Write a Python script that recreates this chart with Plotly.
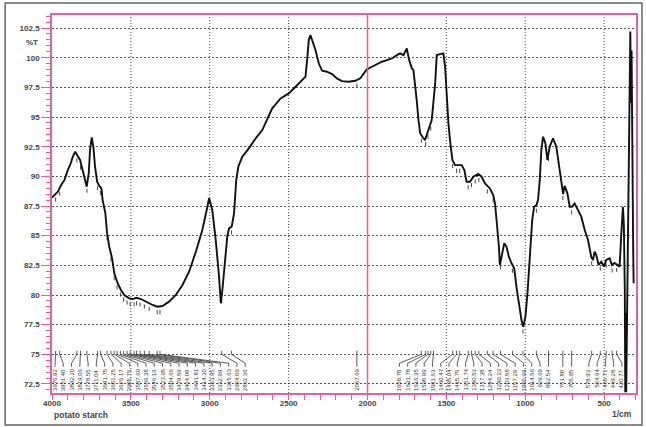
import numpy as np
import plotly.graph_objects as go

# ---------------- data ----------------
wavenumber = [
    4000, 3995, 3963, 3942, 3921, 3900, 3883, 3868, 3853, 3837, 3822, 3809, 3795, 3780,
    3767, 3759, 3748, 3738, 3727, 3714, 3700, 3687, 3679, 3662, 3651, 3637, 3619, 3605,
    3584, 3563, 3542, 3510, 3489, 3464, 3436, 3405, 3363, 3331, 3300, 3258, 3215, 3173,
    3131, 3088, 3047, 3015, 3004, 2984, 2962, 2941, 2930, 2920, 2903, 2889, 2878, 2861,
    2846, 2832, 2819, 2794, 2752, 2709, 2667, 2604, 2551, 2499, 2456, 2425, 2393, 2383,
    2372, 2362, 2351, 2330, 2309, 2288, 2257, 2225, 2194, 2162, 2120, 2077, 2046, 2025,
    2004, 1972, 1941, 1909, 1877, 1846, 1814, 1793, 1772, 1751, 1736, 1719, 1709, 1698,
    1688, 1677, 1666, 1652, 1635, 1618, 1603, 1593, 1571, 1561, 1540, 1519, 1508, 1498,
    1487, 1477, 1462, 1445, 1424, 1403, 1386, 1372, 1350, 1329, 1298, 1277, 1255, 1224,
    1203, 1192, 1182, 1171, 1167, 1161, 1146, 1133, 1119, 1104, 1087, 1070, 1056, 1041,
    1024, 1013, 999, 986, 971, 956, 944, 929, 919, 908, 898, 887, 872, 860, 845, 824,
    803, 788, 771, 760, 750, 733, 718, 704, 687, 666, 645, 623, 602, 582, 571, 560, 550,
    535, 518, 501, 487, 465, 451, 434, 413, 402, 392, 381, 375, 369, 366, 363, 360, 334,
    330, 326, 316, 313,
]
transmittance = [
    88.20, 88.28, 88.71, 89.27, 89.69, 90.53, 91.04, 91.66, 92.08, 91.71, 91.38, 90.68, 89.97, 89.13,
    90.26, 92.22, 93.29, 92.50, 90.81, 89.55, 89.19, 88.99, 88.00, 86.91, 85.23, 84.07, 83.09, 81.83,
    80.99, 80.42, 80.00, 79.72, 79.66, 79.77, 79.66, 79.44, 79.16, 79.01, 79.07, 79.44, 80.00, 80.84,
    81.96, 83.65, 85.48, 87.44, 88.15, 87.16, 84.63, 81.54, 79.30, 80.42, 82.67, 84.91, 85.62, 85.76,
    86.88, 89.69, 90.81, 91.65, 92.36, 93.20, 93.90, 95.73, 96.57, 96.99, 97.55, 97.97, 98.40, 99.80,
    101.49, 101.91, 101.49, 100.65, 99.53, 98.90, 98.82, 98.62, 98.26, 98.03, 97.97, 98.06, 98.26, 98.68,
    99.02, 99.24, 99.47, 99.66, 99.80, 99.94, 100.22, 100.37, 100.22, 100.79, 99.80, 99.10, 98.96, 97.84,
    96.43, 94.75, 93.63, 93.34, 93.06, 93.76, 94.33, 94.75, 97.84, 100.22, 100.30, 100.37, 99.24, 96.43,
    94.47, 93.06, 91.38, 90.95, 90.95, 90.95, 90.53, 89.55, 89.55, 89.97, 90.20, 89.97, 89.40, 88.98,
    88.43, 87.73, 86.32, 84.91, 84.07, 82.53, 83.65, 84.36, 84.07, 83.23, 82.67, 82.25, 80.70, 79.30,
    77.89, 77.33, 78.17, 80.14, 83.51, 86.32, 87.44, 87.58, 88.00, 89.69, 92.22, 93.34, 92.78, 91.38, 92.50, 93.20,
    92.50, 91.10, 89.40, 88.50, 89.20, 88.57, 87.44, 87.44, 87.72, 87.16, 86.60, 85.48, 84.63, 83.23, 82.95, 83.65, 83.37,
    82.53, 82.81, 82.39, 82.95, 83.09, 82.53, 82.70, 82.53, 82.39, 84.91, 87.44, 85.97, 80.40, 71.80, 78.50, 71.80, 102.20,
    96.20, 100.60, 84.07, 81.00,
]

peak_wavenumbers = [
    3976.92, 3951.40, 3842.20, 3819.06, 3778.55, 3711.04, 3691.75, 3651.25, 3626.17, 3605.75,
    3587.60, 3566.38, 3546.16, 3523.95, 3504.66, 3479.59, 3464.08, 3441.81, 3414.30, 3383.95,
    3332.99, 3315.63, 2924.09, 2862.36, 2067.69,
    1658.78, 1631.78, 1616.35, 1598.99, 1581.63, 1460.47, 1435.04, 1415.75, 1361.74, 1340.53,
    1317.38, 1294.24, 1240.23, 1203.58, 1157.29, 1080.99, 1014.56, 929.69, 852.54, 761.88,
    705.95, 578.93, 524.64, 486.71, 449.28, 420.77,
]

x_tick_values = [4000, 3500, 3000, 2500, 2000, 1500, 1000, 500]
x_tick_labels = ["4000", "3500", "3000", "2500", "2000", "1500", "1000", "500"]
y_tick_values = [72.5, 75, 77.5, 80, 82.5, 85, 87.5, 90, 92.5, 95, 97.5, 100, 102.5]
y_tick_labels = ["72.5", "75", "77.5", "80", "82.5", "85", "87.5", "90", "92.5", "95", "97.5", "100", "102.5"]
grid_wavenumbers = [3500, 3000, 2500, 1500, 1000, 500]
divider_wavenumber = 2000
sample_name = "potato starch"
x_unit = "1/cm"
y_unit = "%T"

# ---------------- layout constants ----------------
W, H = 646, 427
ML, MR, MT, MB = 52, 8, 15, 34
X_RANGE = [4000, 298]
Y_RANGE = [71.74, 103.6]
PINK = "#e2629f"
PLOT_W = W - ML - MR
PLOT_H = H - MT - MB
px_per_wn = PLOT_W / (X_RANGE[0] - X_RANGE[1])

# ---------------- peak label spreading (avoid overlapping labels) ----------------
gap = 8.3 / px_per_wn
lo = 3.0 / px_per_wn
hi = (PLOT_W - 6.0) / px_per_wn
u_peaks = [X_RANGE[0] - w for w in peak_wavenumbers]
clusters = []  # [start, count, sum_targets]
for u in u_peaks:
    clusters.append([u, 1, u])
    while True:
        c = clusters[-1]
        n = c[1]
        start = c[2] / n - (n - 1) * gap / 2
        start = max(lo, min(start, hi - (n - 1) * gap))
        c[0] = start
        if len(clusters) > 1:
            p = clusters[-2]
            if p[0] + p[1] * gap > start:
                p[1] += c[1]
                p[2] += c[2]
                clusters.pop()
                continue
        break
label_u = []
for s, n, _ in clusters:
    label_u += [s + i * gap for i in range(n)]
label_wn = [X_RANGE[0] - u for u in label_u]

lead_top, lead_k1, lead_k2, lead_bot, label_top = 75.3, 75.0, 74.25, 73.95, 73.85
lx, ly = [], []
for pw, lw in zip(peak_wavenumbers, label_wn):
    lx += [pw, pw, lw, lw, None]
    ly += [lead_top, lead_k1, lead_k2, lead_bot, None]

# small marks below the curve at each labelled peak
wn_asc = np.array(wavenumber[::-1], dtype=float)
t_asc = np.array(transmittance[::-1], dtype=float)
mx, my = [], []
for pw in peak_wavenumbers:
    t = float(np.interp(pw, wn_asc, t_asc))
    mx += [pw, pw, None]
    my += [t - 0.3, t - 0.65, None]

fig = go.Figure()
fig.add_trace(go.Scatter(x=lx, y=ly, mode="lines", line=dict(color="#333333", width=0.8),
                         hoverinfo="skip", showlegend=False))
fig.add_trace(go.Scatter(x=mx, y=my, mode="lines", line=dict(color="#333333", width=0.9),
                         hoverinfo="skip", showlegend=False))
fig.add_trace(go.Scatter(x=wavenumber, y=transmittance, mode="lines",
                         line=dict(color="#111111", width=1.9), showlegend=False))

shapes = []
for g in grid_wavenumbers:
    shapes.append(dict(type="line", xref="x", yref="paper", x0=g, x1=g, y0=0, y1=1,
                       line=dict(color="#444444", width=1, dash="1px,2px"), layer="below"))
shapes.append(dict(type="line", xref="x", yref="paper", x0=divider_wavenumber, x1=divider_wavenumber,
                   y0=0, y1=1, line=dict(color=PINK, width=1.5), layer="above"))
# outer frame
shapes.append(dict(type="rect", xref="paper", yref="paper",
                   x0=(5 - ML) / PLOT_W, x1=(644 - ML) / PLOT_W,
                   y0=(PLOT_H + MT - 425) / PLOT_H, y1=(PLOT_H + MT - 3) / PLOT_H,
                   line=dict(color="#666666", width=1.5), layer="below"))

annotations = []
for pw, lw in zip(peak_wavenumbers, label_wn):
    annotations.append(dict(x=lw, y=label_top, xref="x", yref="y", text=f"{pw:.2f}",
                            showarrow=False, textangle=-90, xanchor="center", yanchor="top",
                            borderpad=0,
                            font=dict(family="Arial, Liberation Sans", size=6, color="#333333")))
annotations.append(dict(x=(32 - ML) / PLOT_W, y=101.25, xref="paper", yref="y", text=y_unit,
                        showarrow=False, xanchor="center", yanchor="middle",
                        font=dict(family="Arial, Liberation Sans", size=8, color="#444444", weight="bold")))
annotations.append(dict(x=0, y=-(415 - MT - PLOT_H) / PLOT_H, xref="paper", yref="paper", text=sample_name,
                        showarrow=False, xanchor="left", yanchor="middle",
                        font=dict(family="Arial, Liberation Sans", size=8.5, color="#444444", weight="bold")))
annotations.append(dict(x=(636 - ML) / PLOT_W, y=-(414 - MT - PLOT_H) / PLOT_H, xref="paper", yref="paper",
                        text=x_unit, showarrow=False, xanchor="right", yanchor="middle",
                        font=dict(family="Arial, Liberation Sans", size=8.5, color="#444444", weight="bold")))

tickfont = dict(family="Arial, Liberation Sans", size=8, color="#444444", weight="bold")
fig.update_layout(
    width=W, height=H,
    margin=dict(l=ML, r=MR, t=MT, b=MB, pad=0),
    paper_bgcolor="white", plot_bgcolor="white",
    shapes=shapes, annotations=annotations,
    xaxis=dict(range=X_RANGE, autorange=False, tickmode="array", tickvals=x_tick_values,
               ticktext=x_tick_labels, ticks="outside", ticklen=5, tickwidth=1, tickcolor=PINK,
               ticklabelstandoff=-3,
               showline=True, linecolor=PINK, linewidth=1.5, mirror=True, showgrid=False,
               zeroline=False, tickfont=tickfont,
               minor=dict(tickmode="linear", tick0=0, dtick=100, ticks="outside", ticklen=5,
                          tickcolor=PINK, tickwidth=1, showgrid=False)),
    yaxis=dict(range=Y_RANGE, autorange=False, tickmode="array", tickvals=y_tick_values,
               ticktext=y_tick_labels, ticks="outside", ticklen=9, tickwidth=1, tickcolor=PINK,
               showline=True, linecolor=PINK, linewidth=1.5, mirror=True, showgrid=True,
               gridcolor="#555555", gridwidth=1, griddash="2px,2px", zeroline=False,
               tickfont=tickfont,
               minor=dict(tickmode="linear", tick0=0, dtick=0.5, ticks="outside", ticklen=4,
                          tickcolor=PINK, tickwidth=1, showgrid=False)),
)

fig.write_html("out.html", config={"displayModeBar": False},
               post_script="document.body.style.margin='0';document.body.style.overflow='hidden';")
